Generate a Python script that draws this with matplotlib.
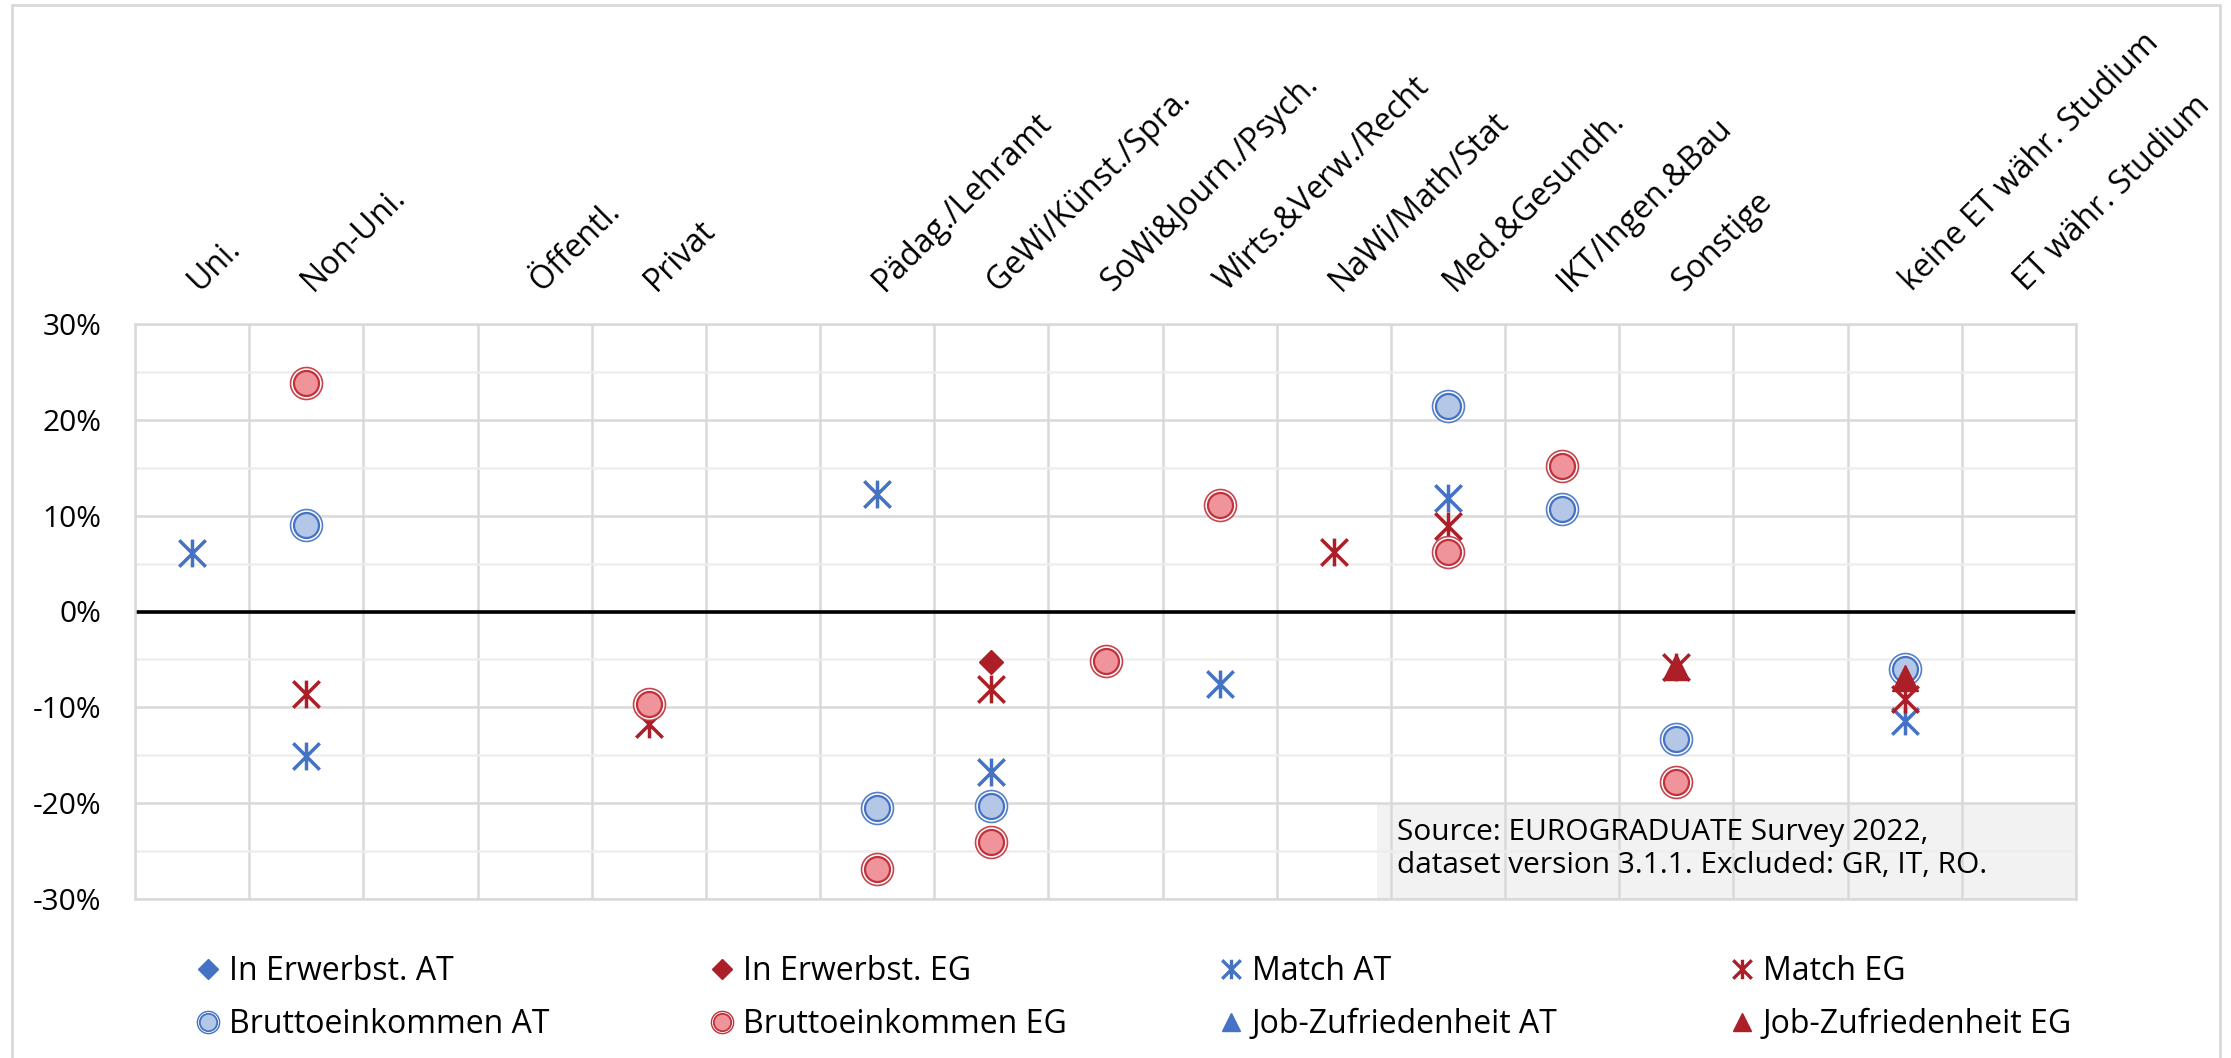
import numpy as np
import matplotlib
matplotlib.use("Agg")
import matplotlib.pyplot as plt
from matplotlib.path import Path
from matplotlib.lines import Line2D
from matplotlib.patches import Rectangle
from matplotlib.transforms import ScaledTranslation

plt.rcParams['font.family'] = ['Open Sans', 'DejaVu Sans']

nan = np.nan
categories = ["Uni.", "Non-Uni.", "", "Öffentl.", "Privat", "",
              "Pädag./Lehramt", "GeWi/Künst./Spra.", "SoWi&Journ./Psych.",
              "Wirts.&Verw./Recht", "NaWi/Math/Stat", "Med.&Gesundh.",
              "IKT/Ingen.&Bau", "Sonstige", "", "keine ET währ. Studium",
              "ET währ. Studium"]

# values in percent, one per category (NaN = no marker)
in_erw_at = [nan] * 17
in_erw_eg = [nan, nan, nan, nan, nan, nan, nan, -5.3, nan, nan, nan, nan, nan, nan, nan, nan, nan]
match_at  = [6.1, -15.1, nan, nan, nan, nan, 12.3, -16.7, nan, -7.6, nan, 11.8, nan, nan, nan, -11.4, nan]
match_eg  = [nan, -8.6, nan, nan, -11.7, nan, nan, -8.1, nan, nan, 6.2, 8.9, nan, -5.8, nan, -9.1, nan]
brutto_at = [nan, 9.0, nan, nan, nan, nan, -20.5, -20.3, nan, nan, nan, 21.4, 10.7, -13.3, nan, -6.0, nan]
brutto_eg = [nan, 23.8, nan, nan, -9.7, nan, -26.9, -24.1, -5.2, 11.1, nan, 6.2, 15.2, -17.8, nan, nan, nan]
jobz_at   = [nan] * 17
jobz_eg   = [nan, nan, nan, nan, nan, nan, nan, nan, nan, nan, nan, nan, nan, -5.8, nan, -6.9, nan]

y_ticks = [30, 20, 10, 0, -10, -20, -30]
y_tick_labels = ["30%", "20%", "10%", "0%", "-10%", "-20%", "-30%"]

legend_labels = ["In Erwerbst. AT", "In Erwerbst. EG", "Match AT", "Match EG",
                 "Bruttoeinkommen AT", "Bruttoeinkommen EG",
                 "Job-Zufriedenheit AT", "Job-Zufriedenheit EG"]

source_text = "Source: EUROGRADUATE Survey 2022,\ndataset version 3.1.1. Excluded: GR, IT, RO."

BLUE = "#4472C4"
RED = "#AD1F28"
BLUE_FILL = "#B4C7E7"
RED_FILL = "#EF949A"
RED_EDGE = "#C0323C"

star = Path([(-1, -1), (1, 1), (-1, 1), (1, -1), (0, -1.05), (0, 1.05)],
            [Path.MOVETO, Path.LINETO, Path.MOVETO, Path.LINETO, Path.MOVETO, Path.LINETO])

W, H = 2231, 1058
fig = plt.figure(figsize=(W / 100, H / 100), dpi=100)
ax = fig.add_axes([135 / W, 1 - 899 / H, (2076 - 135) / W, (899 - 324) / H])

x = np.arange(len(categories)) + 0.5

def pct(v):
    return np.array(v, dtype=float) / 100.0

# series, drawn in legend order
ax.plot(x, pct(in_erw_at), ls='none', marker='D', ms=12.5, color=BLUE, zorder=3)
ax.plot(x, pct(in_erw_eg), ls='none', marker='D', ms=12.5, color=RED, zorder=3)
ax.plot(x, pct(match_at), ls='none', marker=star, ms=20, mew=2.5, color=BLUE, zorder=4)
ax.plot(x, pct(match_eg), ls='none', marker=star, ms=20, mew=2.5, color=RED, zorder=5)
for vals, edge, fill in [(brutto_at, BLUE, BLUE_FILL), (brutto_eg, RED_EDGE, RED_FILL)]:
    ax.plot(x, pct(vals), ls='none', marker='o', ms=23, mfc='white', mec=edge, mew=1.2, alpha=0.9, zorder=6)
    ax.plot(x, pct(vals), ls='none', marker='o', ms=18, mfc=fill, mec=edge, mew=1.6, zorder=6)
ax.plot(x, pct(jobz_at), ls='none', marker='^', ms=19, color=BLUE, zorder=7)
ax.plot(x, pct(jobz_eg), ls='none', marker='^', ms=19, color=RED, zorder=7)

ax.axhline(0, color='black', lw=2.6, zorder=2.5)

ax.set_xlim(0, len(categories))
ax.set_ylim(-0.30, 0.30)
ax.set_xticks(x)
ax.set_xticklabels(categories, rotation=45, ha='left', va='baseline', rotation_mode='anchor', fontsize=23)
ax.set_xticks(np.arange(len(categories) + 1), minor=True)
ax.xaxis.tick_top()
ax.tick_params(axis='x', which='both', length=0, pad=23)
off = ScaledTranslation(7 / 100, 0, fig.dpi_scale_trans)
for lab in ax.get_xticklabels():
    lab.set_transform(lab.get_transform() + off)
ax.set_yticks(np.array(y_ticks) / 100)
ax.set_yticklabels(y_tick_labels, fontsize=21.5)
ax.set_yticks(np.arange(-0.25, 0.30, 0.10), minor=True)
ax.tick_params(axis='y', which='both', length=0, pad=24)
ax.grid(which='minor', axis='x', color='#d9d9d9', lw=1.8)
ax.grid(which='major', axis='x', visible=False)
ax.grid(which='major', axis='y', color='#d9d9d9', lw=1.8)
ax.grid(which='minor', axis='y', color='#eeeeee', lw=1.8)
for s in ax.spines.values():
    s.set_color('#d9d9d9')
    s.set_linewidth(1.8)

# source box
ax.add_patch(Rectangle(((1377 - 135) / 1941, 0), (2076 - 1377) / 1941, (899 - 804) / 575,
                       transform=ax.transAxes, facecolor='#f2f2f2', edgecolor='none', zorder=1))
ax.text((1397 - 135) / 1941, (899 - 849) / 575, source_text, transform=ax.transAxes,
        ha='left', va='center', fontsize=21.5, linespacing=1.22, zorder=8)

# legend
def circ_handle(edge, fill):
    o = Line2D([], [], ls='none', marker='o', ms=16, mfc='white', mec=edge, mew=1.0)
    i = Line2D([], [], ls='none', marker='o', ms=12.5, mfc=fill, mec=edge, mew=1.3)
    return (o, i)

h_inerw_at = Line2D([], [], ls='none', marker='D', ms=10, color=BLUE)
h_inerw_eg = Line2D([], [], ls='none', marker='D', ms=10, color=RED)
h_match_at = Line2D([], [], ls='none', marker=star, ms=14, mew=2.4, color=BLUE)
h_match_eg = Line2D([], [], ls='none', marker=star, ms=14, mew=2.4, color=RED)
h_br_at = circ_handle(BLUE, BLUE_FILL)
h_br_eg = circ_handle(RED_EDGE, RED_FILL)
h_jz_at = Line2D([], [], ls='none', marker='^', ms=13, color=BLUE)
h_jz_eg = Line2D([], [], ls='none', marker='^', ms=13, color=RED)

columns = [
    ([h_inerw_at, h_br_at], [legend_labels[0], legend_labels[4]], 209),
    ([h_inerw_eg, h_br_eg], [legend_labels[1], legend_labels[5]], 723),
    ([h_match_at, h_jz_at], [legend_labels[2], legend_labels[6]], 1232),
    ([h_match_eg, h_jz_eg], [legend_labels[3], legend_labels[7]], 1743),
]
for hs, ls_, mx in columns:
    fig.legend(hs, ls_, loc='upper left', bbox_to_anchor=((mx - 12) / W, 1 - 955 / H),
               frameon=False, fontsize=23, handlelength=0.7, handletextpad=0.3,
               borderpad=0, borderaxespad=0, labelspacing=0.64)

# outer chart border
fig.add_artist(Rectangle((12 / W, -0.02), (2220 - 12) / W, 1.02 - 5 / H, transform=fig.transFigure,
                         facecolor='none', edgecolor='#d9d9d9', lw=2))

fig.savefig("out.png", dpi=100)
